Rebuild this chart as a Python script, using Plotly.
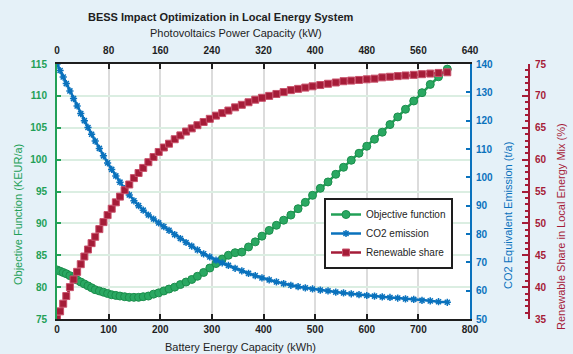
import plotly.graph_objects as go

battery_kwh = [0, 6, 12, 18, 25, 32, 39, 46, 53, 60, 67, 74, 82, 90, 98, 106, 114, 122, 131, 140,
               149, 158, 167, 177, 187, 197, 207, 217, 228, 239, 250, 261, 272, 284, 296, 308, 320,
               332, 345, 358, 371, 384, 397, 411, 425, 439, 453, 467, 481, 495, 510, 525, 540, 555,
               570, 585, 600, 615, 630, 645, 660, 675, 691, 707, 723, 739, 756]

objective_keur = [82.7, 82.5, 82.3, 82.1, 81.8, 81.5, 81.1, 80.8, 80.5, 80.2, 79.9, 79.6, 79.4, 79.2,
                  79.0, 78.8, 78.7, 78.6, 78.5, 78.4, 78.4, 78.4, 78.5, 78.6, 78.9, 79.1, 79.4, 79.7,
                  80.0, 80.4, 80.8, 81.2, 81.7, 82.3, 83.0, 83.7, 84.4, 85.0, 85.4, 85.5, 86.3, 87.1,
                  88.0, 88.9, 89.7, 90.5, 91.3, 92.3, 93.3, 94.4, 95.5, 96.5, 97.7, 98.8, 99.9, 101.0,
                  102.1, 103.2, 104.3, 105.5, 106.7, 107.9, 109.2, 110.5, 111.8, 113.0, 114.2]

co2_t = [140.0, 137.7, 135.4, 133.1, 130.5, 127.8, 125.2, 122.5, 120.0, 117.6, 115.2, 112.8, 110.2,
         107.6, 105.1, 102.8, 100.5, 98.3, 96.0, 93.8, 91.7, 90.0, 88.4, 86.7, 85.3, 83.9, 82.6, 81.3,
         79.8, 78.4, 77.0, 75.7, 74.4, 73.0, 71.9, 70.8, 69.8, 68.9, 67.9, 67.0, 66.1, 65.3, 64.5,
         63.8, 63.1, 62.5, 61.9, 61.4, 61.0, 60.6, 60.2, 59.9, 59.5, 59.2, 58.9, 58.6, 58.3, 58.1,
         57.8, 57.6, 57.4, 57.1, 56.9, 56.6, 56.4, 56.1, 55.9]

renewable_pct = [35.0, 36.2, 37.4, 38.6, 40.0, 41.2, 42.4, 43.6, 44.8, 45.9, 46.9, 47.9, 49.1, 50.2,
                 51.3, 52.3, 53.3, 54.2, 55.2, 56.1, 57.1, 57.9, 58.7, 59.6, 60.4, 61.2, 61.9, 62.5,
                 63.2, 63.8, 64.4, 64.9, 65.4, 65.9, 66.4, 66.9, 67.3, 67.7, 68.2, 68.6, 69.0, 69.4,
                 69.7, 70.0, 70.3, 70.6, 70.9, 71.1, 71.3, 71.5, 71.7, 71.9, 72.1, 72.3, 72.4, 72.5,
                 72.6, 72.7, 72.9, 73.0, 73.1, 73.2, 73.3, 73.4, 73.5, 73.6, 73.7]

pv_range_kw = [0, 640]

GREEN = "#22a057"
BLUE = "#0a72bd"
RED = "#a51c38"
DARK = "#1e1e1e"
BG = "#e5f1f8"
FONT = "Liberation Sans, Arial, sans-serif"

fig = go.Figure()

fig.add_trace(go.Scatter(
    x=battery_kwh, y=objective_keur, name="Objective function", mode="lines+markers",
    line=dict(color=GREEN, width=2.5),
    marker=dict(symbol="circle", size=8, color="#2aa862", line=dict(color="#1b8e4c", width=1)),
    xaxis="x", yaxis="y", hoverinfo="skip"))

fig.add_trace(go.Scatter(
    x=battery_kwh, y=co2_t, name="CO2 emission", mode="lines+markers",
    line=dict(color=BLUE, width=2.5),
    marker=dict(symbol="asterisk-open", size=6, color=BLUE, line=dict(color=BLUE, width=1.5)),
    xaxis="x", yaxis="y2", hoverinfo="skip"))

fig.add_trace(go.Scatter(
    x=battery_kwh, y=renewable_pct, name="Renewable share", mode="lines+markers",
    line=dict(color=RED, width=2.5),
    marker=dict(symbol="square", size=7, color=RED, line=dict(color="#c8506a", width=1)),
    xaxis="x", yaxis="y3", hoverinfo="skip"))

fig.add_trace(go.Scatter(
    x=pv_range_kw, y=[None, None], mode="lines", showlegend=False,
    xaxis="x2", yaxis="y", hoverinfo="skip"))

XD = (470 - 57) / 496.0
tickfont = dict(family=FONT, size=10, color=DARK, weight="bold")

fig.update_layout(
    width=573, height=354,
    margin=dict(l=57, r=20, t=64, b=35),
    paper_bgcolor=BG,
    plot_bgcolor="white",
    font=dict(family=FONT, size=10, color=DARK),
    showlegend=True,
    legend=dict(x=(324 - 57) / 496.0, y=(319 - 198) / 255.0, xanchor="left", yanchor="top",
                bgcolor="white", bordercolor=DARK, borderwidth=2,
                font=dict(family=FONT, size=10, color=DARK), itemwidth=30,
                tracegroupgap=0),
    xaxis=dict(domain=[0, XD], range=[0, 800], dtick=100, tick0=0, anchor="y",
               showgrid=True, gridcolor="#dcdcdc", gridwidth=1.5, zeroline=False,
               showline=True, linecolor=DARK, linewidth=2,
               ticks="inside", ticklen=5, tickcolor=DARK, tickwidth=1.5,
               tickfont=tickfont),
    xaxis2=dict(domain=[0, XD], range=[0, 640], dtick=80, tick0=0, anchor="y",
                overlaying="x", side="top", showgrid=False, zeroline=False,
                showline=True, linecolor=DARK, linewidth=2,
                ticks="inside", ticklen=5, tickcolor=DARK, tickwidth=1.5,
                tickfont=tickfont, ticklabelstandoff=4),
    yaxis=dict(domain=[0, 1], range=[75, 115], dtick=5, tick0=75, anchor="x",
               showgrid=True, gridcolor="#dbeee2", gridwidth=1.5, zeroline=False,
               showline=True, linecolor=GREEN, linewidth=2,
               ticks="inside", ticklen=4, tickcolor=GREEN, tickwidth=1.5,
               tickfont=dict(family=FONT, size=10, color=GREEN, weight="bold"), ticklabelstandoff=6),
    yaxis2=dict(range=[50, 140], dtick=10, tick0=50, anchor="x", overlaying="y", side="right",
                showgrid=False, zeroline=False,
                showline=True, linecolor=BLUE, linewidth=2,
                ticks="inside", ticklen=4, tickcolor=BLUE, tickwidth=1.5,
                tickfont=dict(family=FONT, size=10, color=BLUE, weight="bold"), ticklabelstandoff=2),
    yaxis3=dict(range=[35, 75], dtick=5, tick0=35, anchor="free", overlaying="y", side="right",
                position=(529 - 57) / 496.0,
                showgrid=False, zeroline=False,
                showline=True, linecolor=RED, linewidth=2,
                ticks="inside", ticklen=6, tickcolor=RED, tickwidth=1.5,
                minor=dict(dtick=1, ticklen=3, tickcolor=RED, ticks="inside", tickwidth=1.5),
                tickfont=dict(family=FONT, size=10, color=RED, weight="bold"), ticklabelstandoff=3),
)

def ann(text, x, y, size=11, color=DARK, angle=0, bold=False):
    fig.add_annotation(text=("<b>%s</b>" % text) if bold else text,
                       x=(x - 57) / 496.0, y=(319 - y) / 255.0, xref="paper", yref="paper",
                       showarrow=False, textangle=angle, xanchor="center", yanchor="middle",
                       font=dict(family=FONT, size=size, color=color))

ann("BESS Impact Optimization in Local Energy System", 221, 17, size=11, bold=True)
ann("Photovoltaics Power Capacity (kW)", 236, 33, size=11)
ann("Battery Energy Capacity (kWh)", 240, 347, size=11)
ann("Objective Function (KEUR/a)", 18, 215, size=11, color=GREEN, angle=-90)
ann("CO2 Equivalent Emission (t/a)", 508, 216, size=11, color=BLUE, angle=-90)
ann("Renewable Share in Local Energy Mix (%)", 561, 227, size=11, color=RED, angle=-90)

fig.write_html("out.html", config={"displayModeBar": False},
               post_script="document.body.style.margin='0';document.body.style.background='%s';" % BG)
